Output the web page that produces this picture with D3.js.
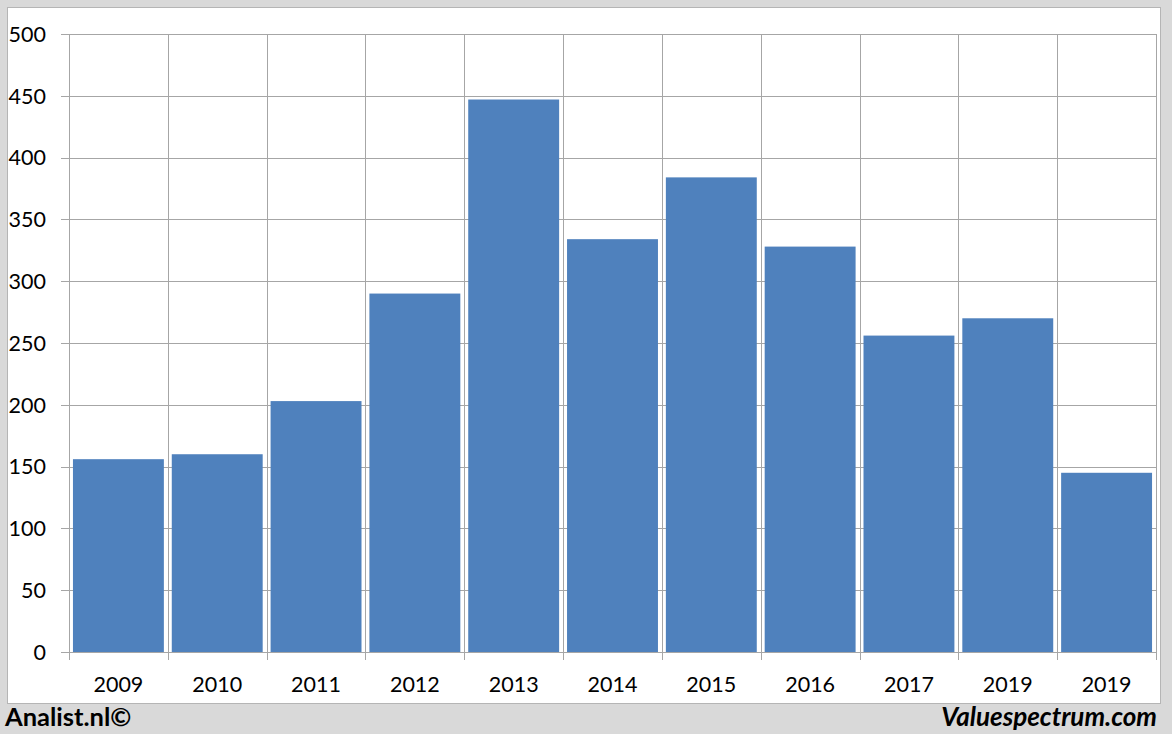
<!DOCTYPE html>
<html><head><meta charset="utf-8">
<script src="https://cdn.jsdelivr.net/npm/d3@7"></script>
<style>html,body{margin:0;padding:0;background:#d9d9d9;}svg{display:block;}</style>
</head><body>
<script>
const categories = ["2009","2010","2011","2012","2013","2014","2015","2016","2017","2019","2019"];
const values = [156,160,203,290,447,334,384,328,256,270,145];
const yTicks = [0,50,100,150,200,250,300,350,400,450,500];

(function(){
const W = 1172, H = 734;
const svg = d3.select("body").append("svg").attr("width", W).attr("height", H);
svg.append("rect").attr("x",0).attr("y",0).attr("width",W).attr("height",H).attr("fill","#d9d9d9");
svg.append("rect").attr("x",7.5).attr("y",7.5).attr("width",1153).attr("height",696)
  .attr("fill","#fff").attr("stroke","#b5b5b5").attr("stroke-width",1);

const pL = 69, pR = 1156, pT = 34, pB = 652;
const idx = d3.range(categories.length);
const x = d3.scaleBand().domain(idx).range([pL, pR]).paddingInner(0.08).paddingOuter(0.04);
const xb = d3.scaleBand().domain(idx).range([pL, pR]).padding(0);
const y = d3.scaleLinear().domain([0,500]).range([pB, pT]);
const font = "Lato, 'Open Sans', sans-serif";
const grid = "#a6a6a6";

svg.append("g").selectAll("line").data(yTicks).join("line")
  .attr("x1", pL - 8).attr("x2", pR)
  .attr("y1", d => Math.round(y(d)) + 0.5).attr("y2", d => Math.round(y(d)) + 0.5)
  .attr("stroke", grid).attr("stroke-width", 1);
const bounds = idx.map(i => xb(i)).concat([pR]);
svg.append("g").selectAll("line").data(bounds).join("line")
  .attr("x1", d => Math.round(d) + 0.5).attr("x2", d => Math.round(d) + 0.5)
  .attr("y1", pT).attr("y2", pB + 8)
  .attr("stroke", grid).attr("stroke-width", 1);

svg.append("g").selectAll("rect").data(idx).join("rect")
  .attr("x", i => x(i)).attr("width", x.bandwidth())
  .attr("y", i => y(values[i])).attr("height", i => y(0) - y(values[i]))
  .attr("fill", "#4f81bd");

svg.append("g").selectAll("text").data(yTicks).join("text")
  .attr("x", 46).attr("y", d => y(d)).attr("dy", "0.36em")
  .attr("text-anchor", "end").attr("font-family", font).attr("font-size", 21.5)
  .attr("fill", "#000").text(d => d);

svg.append("g").selectAll("text").data(idx).join("text")
  .attr("x", i => xb(i) + xb.bandwidth()/2).attr("y", 692)
  .attr("text-anchor", "middle").attr("font-family", font).attr("font-size", 21.5)
  .attr("fill", "#000").text(i => categories[i]);

svg.append("text").attr("x", 5).attr("y", 726).attr("font-family", font)
  .attr("font-weight", "bold").attr("font-size", 25.5).attr("fill", "#000").text("Analist.nl©");
svg.append("text").attr("x", 1157).attr("y", 726).attr("text-anchor", "end").attr("font-family", font)
  .attr("font-weight", "bold").attr("font-style", "italic").attr("font-size", 26).attr("fill", "#000").text("Valuespectrum.com");
})();
</script>
</body></html>
